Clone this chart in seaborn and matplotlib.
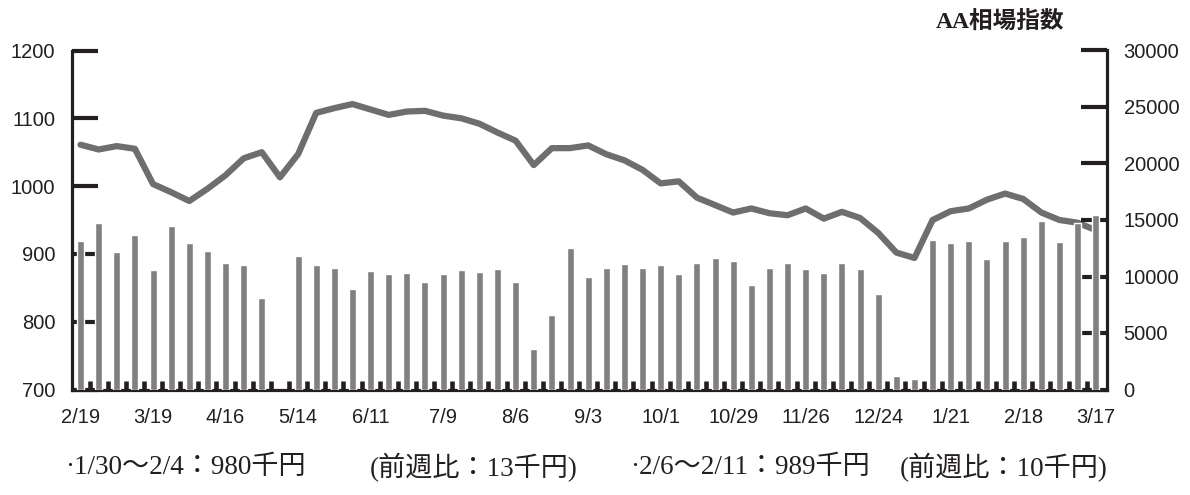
import numpy as np
import pandas as pd
import matplotlib
matplotlib.use("Agg")
import matplotlib.pyplot as plt
import seaborn as sns

# ---- data ----
week_labels = ['2/19', '3/19', '4/16', '5/14', '6/11', '7/9', '8/6', '9/3',
               '10/1', '10/29', '11/26', '12/24', '1/21', '2/18', '3/17']

price = [1061, 1054, 1059, 1055, 1003, 991, 978, 996, 1016, 1041,
         1050, 1013, 1047, 1108, 1115, 1121, 1113, 1105, 1110, 1111,
         1104, 1100, 1092, 1079, 1067, 1031, 1056, 1056, 1060, 1047,
         1038, 1024, 1004, 1007, 983, 972, 961, 967, 960, 957,
         967, 952, 962, 953, 931, 902, 894, 950, 963, 967,
         980, 989, 981, 961, 950, 946, 935]

volume = [13100, 14700, 12130, 13640, 10540, 14430, 12930, 12220, 11160, 10980,
          8070, np.nan, 11780, 10980, 10720, 8860, 10450, 10190, 10280, 9480,
          10190, 10540, 10370, 10630, 9480, 3560, 6570, 12490, 9920, 10720,
          11070, 10720, 10980, 10190, 11160, 11600, 11340, 9220, 10720, 11160,
          10630, 10280, 11160, 10630, 8420, 1180, 910, 13190, 12930, 13100,
          11510, 13100, 13460, 14870, 13020, 14700, 15400]

left_ticks = [700, 800, 900, 1000, 1100, 1200]
right_ticks = [0, 5000, 10000, 15000, 20000, 25000, 30000]

title_text = 'AA相場指数'
note1a = '·1/30～2/4：980千円'
note1b = '(前週比：13千円)'
note2a = '·2/6～2/11：989千円'
note2b = '(前週比：10千円)'

df = pd.DataFrame({'week': np.arange(len(price)), 'price': price, 'volume': volume})

# ---- style ----
sns.set_style('white')
plt.rcParams['font.family'] = ['Liberation Sans', 'Noto Sans CJK JP', 'DejaVu Sans']
dark = '#231f20'

fig = plt.figure(figsize=(11.9, 4.95), dpi=100)
ax1 = fig.add_axes([72 / 1190, 1 - 389.5 / 495, (1107 - 72) / 1190, 339 / 495])
ax2 = ax1.twinx()

sns.lineplot(data=df, x='week', y='price', ax=ax1, color='#6e6e6e', linewidth=4.5)
sns.barplot(data=df, x='week', y='volume', ax=ax2, color='#808080',
            width=0.385, native_scale=True, saturation=1, errorbar=None)

ax1.set_xlim(-0.47, 56.62)
ax1.set_ylim(700, 1200)
ax2.set_ylim(0, 30000)
ax1.set_xlabel('')
ax1.set_ylabel('')
ax2.set_xlabel('')
ax2.set_ylabel('')

ax1.set_xticks(np.arange(0, 57, 4))
ax1.set_xticklabels(week_labels)
ax1.set_xticks(np.arange(0.5, 56, 1), minor=True)
ax1.tick_params(axis='x', which='major', length=0, pad=13, labelsize=14.5, labelcolor=dark)
ax1.tick_params(axis='x', which='minor', direction='in', length=6.5, width=3.3, color=dark, bottom=True)

ax1.set_yticks(left_ticks)
ax1.set_yticklabels([str(v) for v in left_ticks])
ax1.tick_params(axis='y', direction='in', length=19, width=3, color=dark, pad=12,
                labelsize=14.5, labelcolor=dark, left=True, right=False)
ax2.set_yticks(right_ticks)
ax2.set_yticklabels([str(v) for v in right_ticks])
ax2.tick_params(axis='y', direction='in', length=19, width=3, color=dark, pad=12,
                labelsize=14.5, labelcolor=dark, right=True, left=False)

for ax in (ax1, ax2):
    ax.spines['top'].set_visible(False)
    for s in ('left', 'right', 'bottom'):
        ax.spines[s].set_color(dark)
        ax.spines[s].set_linewidth(2.3)
ax1.spines['right'].set_visible(False)
ax2.spines['left'].set_visible(False)
ax2.spines['bottom'].set_visible(False)
ax1.grid(False)
ax2.grid(False)

serif_cjk = ['Liberation Serif', 'Noto Sans CJK JP']
fig.text(1000 / 1190, 1 - 22 / 495, title_text, ha='center', va='center',
         fontsize=17, fontweight='bold', family=serif_cjk, color=dark)

ty = 1 - 468 / 495
fs = 19.5
fig.text(65 / 1190, ty, note1a, ha='left', va='center', fontsize=fs, family=serif_cjk, color=dark)
fig.text(370 / 1190, ty, note1b, ha='left', va='center', fontsize=fs, family=serif_cjk, color=dark)
fig.text(630 / 1190, ty, note2a, ha='left', va='center', fontsize=fs, family=serif_cjk, color=dark)
fig.text(900 / 1190, ty, note2b, ha='left', va='center', fontsize=fs, family=serif_cjk, color=dark)

fig.savefig('out.png', dpi=100)
